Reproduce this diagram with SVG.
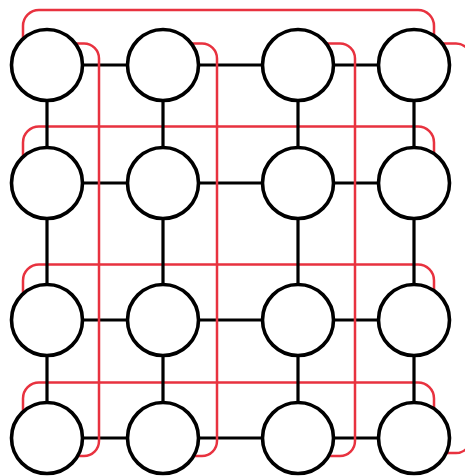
<svg xmlns="http://www.w3.org/2000/svg" width="465" height="476" viewBox="0 0 465 476">
<style>
.b{stroke:#000;stroke-width:3.2;fill:none}
.r{stroke:#e8323f;stroke-width:2.5;fill:none}
.n{fill:#fff;stroke:#000;stroke-width:3.6}
</style>
<rect width="465" height="476" fill="#fff"/>
<g id="connectors">
<g id="horizontal-links">
<path class="b" d="M82.5,65H127.5M198.5,65H262.5M333.5,65H378.5"/>
<path class="b" d="M82.5,183H127.5M198.5,183H262.5M333.5,183H378.5"/>
<path class="b" d="M82.5,320H127.5M198.5,320H262.5M333.5,320H378.5"/>
<path class="b" d="M82.5,438H127.5M198.5,438H262.5M333.5,438H378.5"/>
</g>
<g id="wrap-links">
<path class="r" d="M23,39V26A16,16 0 0 1 39,10H418A16,16 0 0 1 434,26V36"/>
<path class="r" d="M23,157V142.5A16,16 0 0 1 39,126.5H418A16,16 0 0 1 434,142.5V154"/>
<path class="r" d="M23,294V280.5A16,16 0 0 1 39,264.5H418A16,16 0 0 1 434,280.5V291"/>
<path class="r" d="M23,412V398.5A16,16 0 0 1 39,382.5H418A16,16 0 0 1 434,398.5V409"/>
<path class="r" d="M75,43.5H84A15,15 0 0 1 99,58.5V441A15,15 0 0 1 84,456H77"/>
<path class="r" d="M191,43.5H202A15,15 0 0 1 217,58.5V441A15,15 0 0 1 202,456H193"/>
<path class="r" d="M327,43.5H340A15,15 0 0 1 355,58.5V441A15,15 0 0 1 340,456H329"/>
<path class="r" d="M442,43.5H456A15,15 0 0 1 471,58.5V438A15,15 0 0 1 456,453H446"/>
</g>
<g id="vertical-links">
<path class="b" d="M47,100.5V147.5M47,218.5V284.5M47,355.5V402.5"/>
<path class="b" d="M163,100.5V147.5M163,218.5V284.5M163,355.5V402.5"/>
<path class="b" d="M298,100.5V147.5M298,218.5V284.5M298,355.5V402.5"/>
<path class="b" d="M414,100.5V147.5M414,218.5V284.5M414,355.5V402.5"/>
</g>
</g>
<g id="n00"><circle class="n" cx="47" cy="65" r="35.5"/></g>
<g id="n01"><circle class="n" cx="163" cy="65" r="35.5"/></g>
<g id="n02"><circle class="n" cx="298" cy="65" r="35.5"/></g>
<g id="n03"><circle class="n" cx="414" cy="65" r="35.5"/></g>
<g id="n10"><circle class="n" cx="47" cy="183" r="35.5"/></g>
<g id="n11"><circle class="n" cx="163" cy="183" r="35.5"/></g>
<g id="n12"><circle class="n" cx="298" cy="183" r="35.5"/></g>
<g id="n13"><circle class="n" cx="414" cy="183" r="35.5"/></g>
<g id="n20"><circle class="n" cx="47" cy="320" r="35.5"/></g>
<g id="n21"><circle class="n" cx="163" cy="320" r="35.5"/></g>
<g id="n22"><circle class="n" cx="298" cy="320" r="35.5"/></g>
<g id="n23"><circle class="n" cx="414" cy="320" r="35.5"/></g>
<g id="n30"><circle class="n" cx="47" cy="438" r="35.5"/></g>
<g id="n31"><circle class="n" cx="163" cy="438" r="35.5"/></g>
<g id="n32"><circle class="n" cx="298" cy="438" r="35.5"/></g>
<g id="n33"><circle class="n" cx="414" cy="438" r="35.5"/></g>
</svg>
